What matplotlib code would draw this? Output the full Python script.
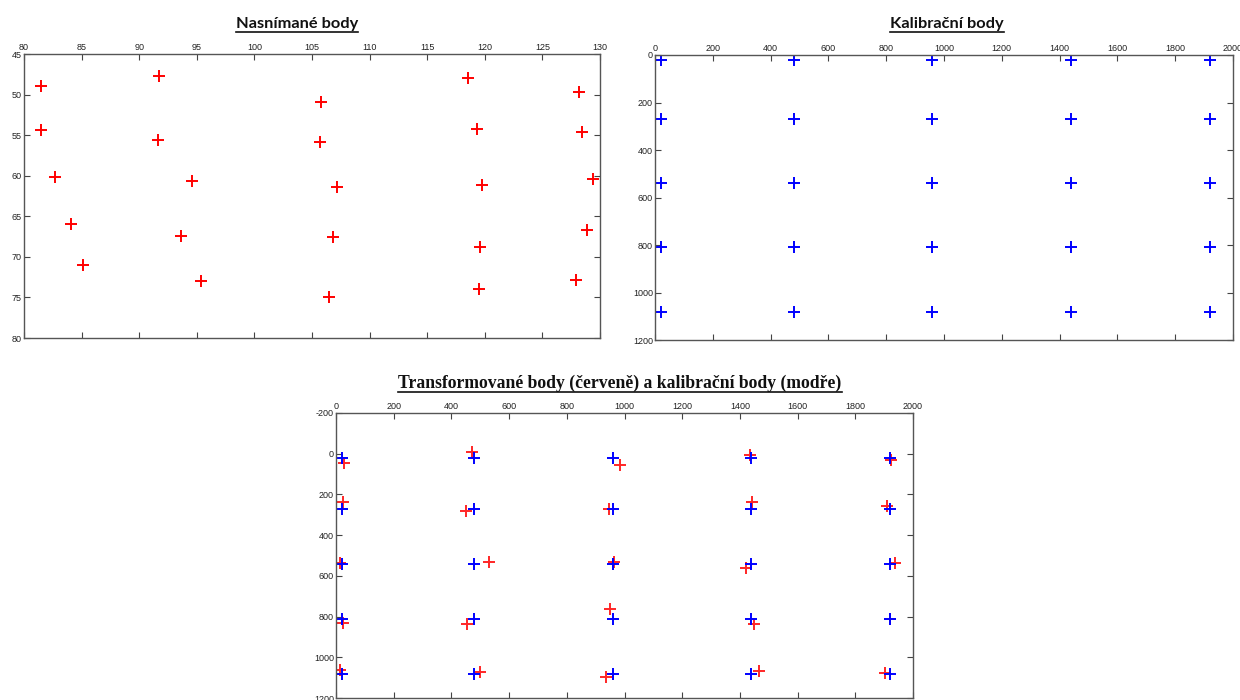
import matplotlib
matplotlib.use("Agg")
import matplotlib.pyplot as plt
from matplotlib.lines import Line2D
import numpy as np

plt.rcParams["axes.unicode_minus"] = False

# measured points (image coordinates of the camera), red
meas_x = [81.5, 82.7, 84.1, 85.1, 81.5,
          91.7, 91.6, 94.6, 93.6, 95.4,
          105.8, 105.7, 107.2, 106.8, 106.5,
          118.5, 119.3, 119.8, 119.6, 119.5,
          128.2, 128.4, 129.4, 128.9, 127.9]
meas_y = [48.9, 60.2, 66.0, 71.0, 54.4,
          47.7, 55.6, 60.7, 67.4, 73.0,
          50.9, 55.8, 61.4, 67.5, 75.0,
          47.9, 54.2, 61.2, 68.8, 74.0,
          49.7, 54.6, 60.4, 66.7, 72.8]

# calibration grid, blue
calib_cols = [20, 480, 960, 1440, 1920]
calib_rows = [20, 270, 540, 810, 1080]
calib_x = [c for c in calib_cols for r in calib_rows]
calib_y = [r for c in calib_cols for r in calib_rows]

# transformed points, red (column by column, rows top to bottom)
trans_x = [28, 23, 15, 23, 14,
           472, 452, 529, 455, 500,
           984, 948, 962, 951, 937,
           1434, 1442, 1420, 1448, 1467,
           1923, 1911, 1939, 1921, 1903]
trans_y = [45, 237, 535, 831, 1064,
           -8, 281, 530, 838, 1070,
           54, 273, 533, 763, 1096,
           7, 239, 562, 836, 1065,
           33, 259, 537, 812, 1077]

W, H = 1240, 700
fig = plt.figure(figsize=(W / 100, H / 100), dpi=100)


def px_axes(left, top, right, bottom):
    return fig.add_axes([left / W, 1 - bottom / H, (right - left) / W, (bottom - top) / H])


def style(ax, xlim, xticks, ylim, yticks):
    ax.set_xlim(*xlim)
    ax.set_ylim(*ylim)
    ax.set_xticks(xticks)
    ax.set_yticks(yticks)
    ax.xaxis.tick_top()
    ax.tick_params(axis="both", which="both", direction="in", length=4, width=0.8,
                   color="#444444", labelsize=6.5, labelcolor="#222222",
                   top=True, bottom=True, left=True, right=True,
                   labeltop=True, labelbottom=False, pad=1.5)
    for sp in ax.spines.values():
        sp.set_color("#555555")
        sp.set_linewidth(1.0)
    for lab in ax.get_xticklabels() + ax.get_yticklabels():
        lab.set_fontfamily("Liberation Sans")


mk = dict(linestyle="none", marker="+", markersize=9, markeredgewidth=1.4)

ax1 = px_axes(24, 54, 600, 338)
ax1.plot(meas_x, meas_y, color="red", **mk)
style(ax1, (80, 130), np.arange(80, 131, 5), (80, 45), np.arange(45, 81, 5))

ax2 = px_axes(655, 55, 1233, 340)
ax2.plot(calib_x, calib_y, color="blue", **mk)
style(ax2, (0, 2000), np.arange(0, 2001, 200), (1200, 0), np.arange(0, 1201, 200))

ax3 = px_axes(336, 413, 913, 698)
ax3.plot(trans_x, trans_y, color="red", alpha=0.85, **mk)
ax3.plot(calib_x, calib_y, color="blue", **mk)
style(ax3, (0, 2000), np.arange(0, 2001, 200), (1200, -200), np.arange(-200, 1201, 200))


def underlined(text, cx, base_y, family, size, gap):
    t = fig.text(cx / W, 1 - base_y / H, text, ha="center", va="baseline",
                 fontsize=size, fontweight="bold", family=family, color="#111111")
    fig.canvas.draw()
    bb = t.get_window_extent(renderer=fig.canvas.get_renderer())
    yl = 1 - (base_y + gap) / H
    fig.add_artist(Line2D([bb.x0 / W, bb.x1 / W], [yl, yl], transform=fig.transFigure,
                          color="#111111", linewidth=1.2))


underlined("Nasnímané body", 297, 28, ["Lato", "DejaVu Sans"], 11.8, 3.5)
underlined("Kalibrační body", 947, 28, ["Lato", "DejaVu Sans"], 11.8, 3.5)
underlined("Transformované body (červeně) a kalibrační body (modře)", 620, 388,
           ["Liberation Serif", "DejaVu Serif"], 12.7, 4)

fig.savefig("out.png", dpi=100)
